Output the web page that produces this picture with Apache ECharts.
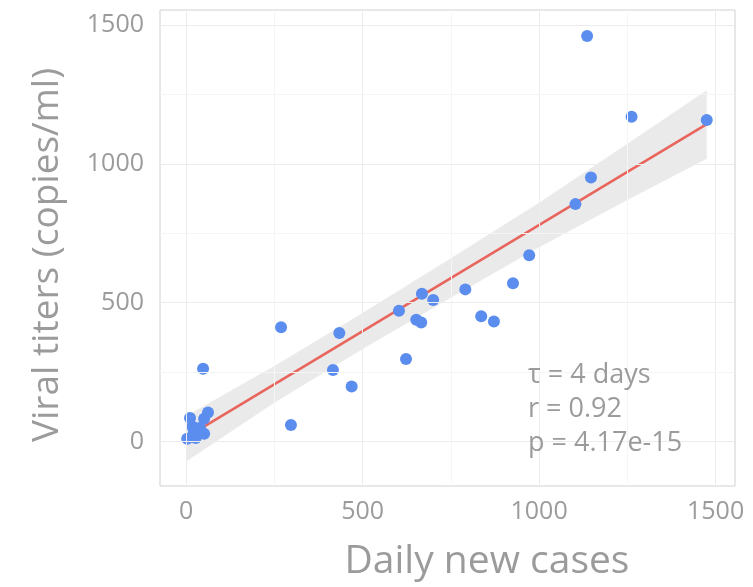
<!DOCTYPE html>
<html>
<head>
<meta charset="utf-8">
<script src="https://cdn.jsdelivr.net/npm/echarts@6/dist/echarts.min.js"></script>
<style>
html,body{margin:0;padding:0;background:#fff;}
#c{width:753px;height:587px;}
</style>
</head>
<body>
<div id="c"></div>
<script>
// Daily new cases (x) and viral titers (y)
const casesX = [1136, 1262, 1475, 1147, 1103, 972, 926, 791, 668, 700, 603, 836, 872, 652, 666, 434, 623, 416, 469, 269, 297, 48,
                11, 62, 51, 18, 39, 51, 3, 27, 39, 22];
const titersY = [1460, 1170, 1158, 951, 855, 671, 570, 548, 532, 510, 471, 451, 432, 439, 429, 391, 297, 258, 198, 412, 60, 262,
                 85, 105, 82, 54, 49, 28, 10, 13, 34, 34];
// Fitted line and confidence band
const fitX = [0, 1475];
const fitY = [15, 1143];
const bandX = [0, 250, 500, 750, 1000, 1250, 1475];
const bandLow = [-72, 140, 333, 518, 700, 870, 1018];
const bandHigh = [92, 272, 463, 660, 860, 1072, 1265];
// Axis ticks and gridlines
const tickValues = [0, 500, 1000, 1500];
const gridValues = [0, 250, 500, 750, 1000, 1250, 1500];
const annotation = ['τ = 4 days', 'r = 0.92', 'p = 4.17e-15'];

const FONT = '"Open Sans", "Noto Sans", sans-serif';
const GREY = '#9b9b9b';

const points = casesX.map((x, i) => [x, titersY[i]]);
const bandData = bandX.map((x, i) => [x, bandLow[i], bandHigh[i]]);
const fitData = fitX.map((x, i) => [x, fitY[i]]);

const chart = echarts.init(document.getElementById('c'), null, {renderer: 'canvas'});

const gridLine = (axis) => gridValues.map(v => ({[axis]: v, lineStyle: {color: (v % 500 === 0) ? '#ececec' : '#f5f5f5', width: 1, type: 'solid'}}));

chart.setOption({
  animation: false,
  backgroundColor: '#ffffff',
  grid: {left: 160, right: 18, top: 10, bottom: 101, show: true, borderColor: '#d0d0d0', borderWidth: 1, backgroundColor: 'transparent'},
  xAxis: {
    type: 'value', min: -74, max: 1555,
    axisLine: {show: false},
    splitLine: {show: false},
    axisTick: {show: true, customValues: tickValues, length: 5, inside: false, lineStyle: {color: '#bbbbbb'}},
    axisLabel: {customValues: tickValues, formatter: v => String(v), color: GREY, fontFamily: FONT, fontSize: 25, margin: 13}
  },
  yAxis: {
    type: 'value', min: -160, max: 1554,
    axisLine: {show: false},
    splitLine: {show: false},
    axisTick: {show: true, customValues: tickValues, length: 5, inside: false, lineStyle: {color: '#bbbbbb'}},
    axisLabel: {customValues: tickValues, formatter: v => String(v), color: GREY, fontFamily: FONT, fontSize: 25, margin: 16}
  },
  graphic: [
    {type: 'text', z: 100, x: 47, y: 255, rotation: Math.PI / 2, style: {text: 'Viral titers (copies/ml)', fill: GREY, font: '37px ' + FONT, align: 'center', verticalAlign: 'middle'}},
    {type: 'text', z: 100, x: 487, y: 562, style: {text: 'Daily new cases', fill: GREY, font: '39px ' + FONT, align: 'center', verticalAlign: 'middle'}},
    {type: 'text', z: 100, x: 528, y: 375, style: {text: annotation[0], fill: GREY, font: '27px ' + FONT, align: 'left', verticalAlign: 'middle'}},
    {type: 'text', z: 100, x: 528, y: 409, style: {text: annotation[1], fill: GREY, font: '27px ' + FONT, align: 'left', verticalAlign: 'middle'}},
    {type: 'text', z: 100, x: 528, y: 443, style: {text: annotation[2], fill: GREY, font: '27px ' + FONT, align: 'left', verticalAlign: 'middle'}}
  ],
  series: [
    {
      type: 'line', data: [], silent: true, z: 0,
      markLine: {silent: true, symbol: 'none', label: {show: false}, animation: false,
        data: gridLine('xAxis').concat(gridLine('yAxis'))}
    },
    {
      type: 'custom', z: 1, silent: true,
      data: bandData,
      renderItem: function (params, api) {
        if (params.dataIndex !== 0) return null;
        const upper = bandData.map(d => api.coord([d[0], d[2]]));
        const lower = bandData.slice().reverse().map(d => api.coord([d[0], d[1]]));
        return {type: 'polygon', shape: {points: upper.concat(lower)}, style: {fill: '#e6e6e6', opacity: 0.85}};
      }
    },
    {
      type: 'line', z: 2, data: fitData, showSymbol: false, symbol: 'none', silent: true,
      lineStyle: {color: '#e8645c', width: 2.5}
    },
    {
      type: 'scatter', z: 3, data: points, symbolSize: 12,
      itemStyle: {color: '#5b8def', opacity: 1}
    }
  ]
});
</script>
</body>
</html>
